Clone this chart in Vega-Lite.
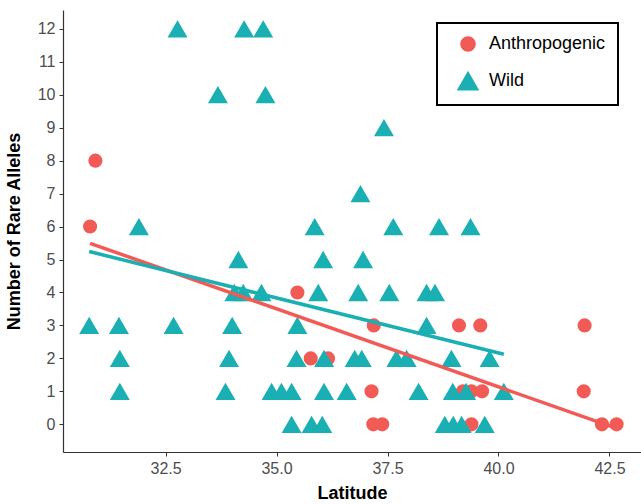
{
  "$schema": "https://vega.github.io/schema/vega-lite/v6.json",
  "width": 578,
  "height": 442,
  "autosize": {"type": "none"},
  "padding": {"left": 63, "top": 10, "right": 0, "bottom": 52},
  "background": "white",
  "config": {
    "view": {"stroke": null},
    "font": "Liberation Sans",
    "axis": {
      "grid": false,
      "domainColor": "#333333",
      "domainWidth": 1.2,
      "tickColor": "#333333",
      "tickSize": 4,
      "labelColor": "#4D4D4D",
      "labelFont": "Liberation Sans",
      "labelFontSize": 16,
      "titleFont": "Liberation Sans",
      "titleFontWeight": "bold",
      "titleFontSize": 18,
      "titleColor": "black"
    },
    "legend": {
      "labelFont": "Liberation Sans",
      "labelFontSize": 18,
      "labelColor": "black"
    }
  },
  "data": {
    "values": [
      {"lat": 30.80, "alleles": 6, "group": "Anthropogenic"},
      {"lat": 30.92, "alleles": 8, "group": "Anthropogenic"},
      {"lat": 35.47, "alleles": 4, "group": "Anthropogenic"},
      {"lat": 35.77, "alleles": 2, "group": "Anthropogenic"},
      {"lat": 36.16, "alleles": 2, "group": "Anthropogenic"},
      {"lat": 37.19, "alleles": 3, "group": "Anthropogenic"},
      {"lat": 37.14, "alleles": 1, "group": "Anthropogenic"},
      {"lat": 37.18, "alleles": 0, "group": "Anthropogenic"},
      {"lat": 37.38, "alleles": 0, "group": "Anthropogenic"},
      {"lat": 39.11, "alleles": 3, "group": "Anthropogenic"},
      {"lat": 39.59, "alleles": 3, "group": "Anthropogenic"},
      {"lat": 39.20, "alleles": 1, "group": "Anthropogenic"},
      {"lat": 39.39, "alleles": 1, "group": "Anthropogenic"},
      {"lat": 39.63, "alleles": 1, "group": "Anthropogenic"},
      {"lat": 39.39, "alleles": 0, "group": "Anthropogenic"},
      {"lat": 41.94, "alleles": 3, "group": "Anthropogenic"},
      {"lat": 41.92, "alleles": 1, "group": "Anthropogenic"},
      {"lat": 42.33, "alleles": 0, "group": "Anthropogenic"},
      {"lat": 42.66, "alleles": 0, "group": "Anthropogenic"},
      {"lat": 32.77, "alleles": 12, "group": "Wild"},
      {"lat": 34.27, "alleles": 12, "group": "Wild"},
      {"lat": 34.70, "alleles": 12, "group": "Wild"},
      {"lat": 33.68, "alleles": 10, "group": "Wild"},
      {"lat": 34.75, "alleles": 10, "group": "Wild"},
      {"lat": 37.42, "alleles": 9, "group": "Wild"},
      {"lat": 36.89, "alleles": 7, "group": "Wild"},
      {"lat": 31.90, "alleles": 6, "group": "Wild"},
      {"lat": 35.86, "alleles": 6, "group": "Wild"},
      {"lat": 37.63, "alleles": 6, "group": "Wild"},
      {"lat": 38.66, "alleles": 6, "group": "Wild"},
      {"lat": 39.37, "alleles": 6, "group": "Wild"},
      {"lat": 34.14, "alleles": 5, "group": "Wild"},
      {"lat": 36.05, "alleles": 5, "group": "Wild"},
      {"lat": 36.95, "alleles": 5, "group": "Wild"},
      {"lat": 34.05, "alleles": 4, "group": "Wild"},
      {"lat": 34.25, "alleles": 4, "group": "Wild"},
      {"lat": 34.66, "alleles": 4, "group": "Wild"},
      {"lat": 35.94, "alleles": 4, "group": "Wild"},
      {"lat": 36.84, "alleles": 4, "group": "Wild"},
      {"lat": 37.54, "alleles": 4, "group": "Wild"},
      {"lat": 38.38, "alleles": 4, "group": "Wild"},
      {"lat": 38.57, "alleles": 4, "group": "Wild"},
      {"lat": 30.78, "alleles": 3, "group": "Wild"},
      {"lat": 31.45, "alleles": 3, "group": "Wild"},
      {"lat": 32.68, "alleles": 3, "group": "Wild"},
      {"lat": 34.00, "alleles": 3, "group": "Wild"},
      {"lat": 35.47, "alleles": 3, "group": "Wild"},
      {"lat": 38.38, "alleles": 3, "group": "Wild"},
      {"lat": 31.47, "alleles": 2, "group": "Wild"},
      {"lat": 33.93, "alleles": 2, "group": "Wild"},
      {"lat": 35.45, "alleles": 2, "group": "Wild"},
      {"lat": 36.07, "alleles": 2, "group": "Wild"},
      {"lat": 36.76, "alleles": 2, "group": "Wild"},
      {"lat": 36.92, "alleles": 2, "group": "Wild"},
      {"lat": 37.70, "alleles": 2, "group": "Wild"},
      {"lat": 37.93, "alleles": 2, "group": "Wild"},
      {"lat": 38.94, "alleles": 2, "group": "Wild"},
      {"lat": 39.80, "alleles": 2, "group": "Wild"},
      {"lat": 31.47, "alleles": 1, "group": "Wild"},
      {"lat": 33.85, "alleles": 1, "group": "Wild"},
      {"lat": 34.89, "alleles": 1, "group": "Wild"},
      {"lat": 35.11, "alleles": 1, "group": "Wild"},
      {"lat": 35.34, "alleles": 1, "group": "Wild"},
      {"lat": 36.07, "alleles": 1, "group": "Wild"},
      {"lat": 36.58, "alleles": 1, "group": "Wild"},
      {"lat": 38.20, "alleles": 1, "group": "Wild"},
      {"lat": 38.97, "alleles": 1, "group": "Wild"},
      {"lat": 39.27, "alleles": 1, "group": "Wild"},
      {"lat": 40.12, "alleles": 1, "group": "Wild"},
      {"lat": 35.34, "alleles": 0, "group": "Wild"},
      {"lat": 35.79, "alleles": 0, "group": "Wild"},
      {"lat": 36.03, "alleles": 0, "group": "Wild"},
      {"lat": 38.79, "alleles": 0, "group": "Wild"},
      {"lat": 38.98, "alleles": 0, "group": "Wild"},
      {"lat": 39.17, "alleles": 0, "group": "Wild"},
      {"lat": 39.69, "alleles": 0, "group": "Wild"}
    ]
  },
  "encoding": {
    "x": {
      "field": "lat",
      "type": "quantitative",
      "title": "Latitude",
      "scale": {"domain": [30.19, 43.21], "nice": false, "zero": false},
      "axis": {"values": [32.5, 35, 37.5, 40, 42.5], "format": ".1f", "labelPadding": 4, "titlePadding": 8}
    },
    "y": {
      "field": "alleles",
      "type": "quantitative",
      "title": "Number of Rare Alleles",
      "scale": {"domain": [-0.84, 12.57], "nice": false, "zero": false},
      "axis": {"values": [0,1,2,3,4,5,6,7,8,9,10,11,12], "labelPadding": 4, "titlePadding": 14}
    }
  },
  "layer": [
    {
      "mark": {"type": "point", "filled": true, "opacity": 1},
      "encoding": {
        "color": {
          "field": "group", "type": "nominal",
          "scale": {"domain": ["Anthropogenic", "Wild"], "range": ["#F25A55", "#1AAFB2"]},
          "legend": {
            "title": null, "orient": "none", "legendX": 374, "legendY": 13,
            "strokeColor": "black", "padding": 12, "symbolOffset": 8,
            "rowPadding": 14, "labelOffset": 10, "symbolOpacity": 1,
            "encode": {"legend": {"update": {"strokeWidth": {"value": 2}}}}
          }
        },
        "shape": {
          "field": "group", "type": "nominal",
          "scale": {"domain": ["Anthropogenic", "Wild"], "range": ["circle", "triangle-up"]},
          "legend": {
            "title": null, "orient": "none", "legendX": 374, "legendY": 13,
            "strokeColor": "black", "padding": 12, "symbolOffset": 8,
            "rowPadding": 14, "labelOffset": 10, "symbolOpacity": 1,
            "encode": {"legend": {"update": {"strokeWidth": {"value": 2}}}}
          }
        },
        "size": {
          "field": "group", "type": "nominal",
          "scale": {"domain": ["Anthropogenic", "Wild"], "range": [200, 400]},
          "legend": {
            "title": null, "orient": "none", "legendX": 374, "legendY": 13,
            "strokeColor": "black", "padding": 12, "symbolOffset": 8,
            "rowPadding": 14, "labelOffset": 10, "symbolOpacity": 1,
            "encode": {"legend": {"update": {"strokeWidth": {"value": 2}}}}
          }
        }
      }
    },
    {
      "transform": [
        {"regression": "alleles", "on": "lat", "groupby": ["group"]}
      ],
      "mark": {"type": "line", "strokeWidth": 3.5},
      "encoding": {
        "color": {"field": "group", "type": "nominal", "legend": null}
      }
    }
  ]
}
